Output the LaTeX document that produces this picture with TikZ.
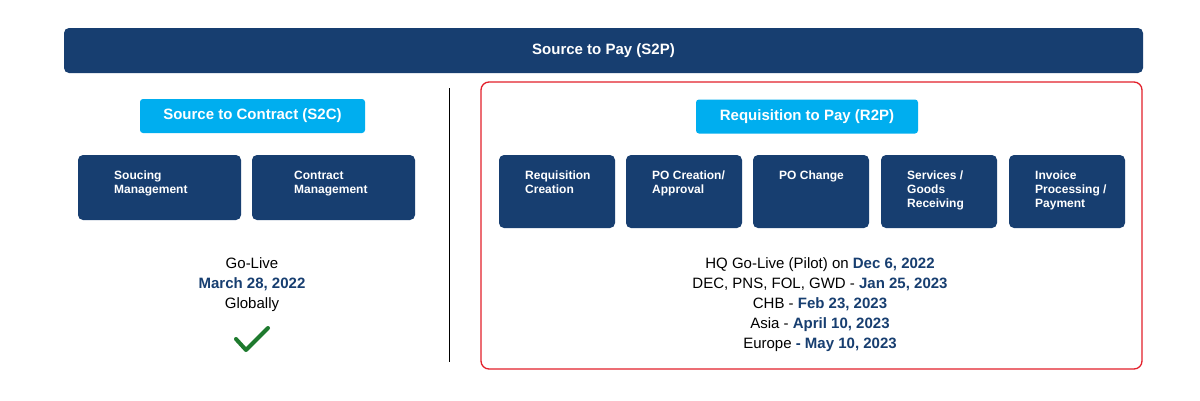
\documentclass[tikz,border=0pt]{standalone}
\usepackage{fontspec}
\setmainfont{Liberation Sans}
\definecolor{navy}{HTML}{173E70}
\definecolor{sky}{HTML}{00AEEF}
\definecolor{rred}{HTML}{E3202B}
\definecolor{chk}{HTML}{1E7A2E}
\tikzset{
 proc/.style={fill=navy,rounded corners=5pt,draw=none},
 ptext/.style={text=white,font=\fontsize{12}{14}\selectfont\bfseries,align=left,anchor=north west,inner sep=0},
 lbl/.style={fill=sky,rounded corners=3pt,text=white,font=\fontsize{15}{17}\selectfont\bfseries,minimum height=34pt},
 info/.style={font=\fontsize{15}{20}\selectfont,align=center}
}
\newcommand{\dd}[1]{\textcolor{navy}{\bfseries #1}}
\begin{document}
\begin{tikzpicture}[x=1pt,y=-1pt]
\useasboundingbox (0,0) rectangle (1200,400);
\fill[fill=white] (0,0) rectangle (1200,400);
\node[proc,minimum width=1079pt,minimum height=45pt,text=white,font=\fontsize{15}{17}\selectfont\bfseries] (top) at (603.5,50.5) {Source to Pay (S2P)};
\node[lbl,minimum width=225pt] (s2c) at (252.5,116) {Source to Contract (S2C)};
\node[lbl,minimum width=222pt] (r2p) at (807,116.5) {Requisition to Pay (R2P)};
\draw[rred,line width=1.3pt,rounded corners=8pt] (481,82) rectangle (1142,369);
\draw[black,line width=0.8pt] (449,88) -- (449,362);
% left boxes
\fill[proc] (78,155) rectangle (241,220);
\node[ptext] (b1) at (114,171) {Soucing\\Management};
\fill[proc] (252,155) rectangle (415,220);
\node[ptext] (b2) at (294,171) {Contract\\Management};
% right boxes
\foreach \x/\t [count=\i] in {499/{Requisition\\Creation},626/{PO Creation/\\Approval},753/{PO Change},881/{Services /\\Goods\\Receiving},1009/{Invoice\\Processing /\\Payment}}{
 \fill[proc] (\x,155) rectangle ++(116,73);
 \node[ptext] (r\i) at (\x+26,171) {\t};
}
\node[info] (gl) at (252,285) {Go-Live\\\dd{March 28, 2022}\\Globally};
\draw[chk,line width=4pt,line cap=round,line join=round] (236,339) -- (246,350) -- (268,328);
\node[info] (dates) at (820,305) {HQ Go-Live (Pilot) on \dd{Dec 6, 2022}\\DEC, PNS, FOL, GWD - \dd{Jan 25, 2023}\\CHB - \dd{Feb 23, 2023}\\Asia - \dd{April 10, 2023}\\Europe \dd{- May 10, 2023}};
\end{tikzpicture}
\end{document}
